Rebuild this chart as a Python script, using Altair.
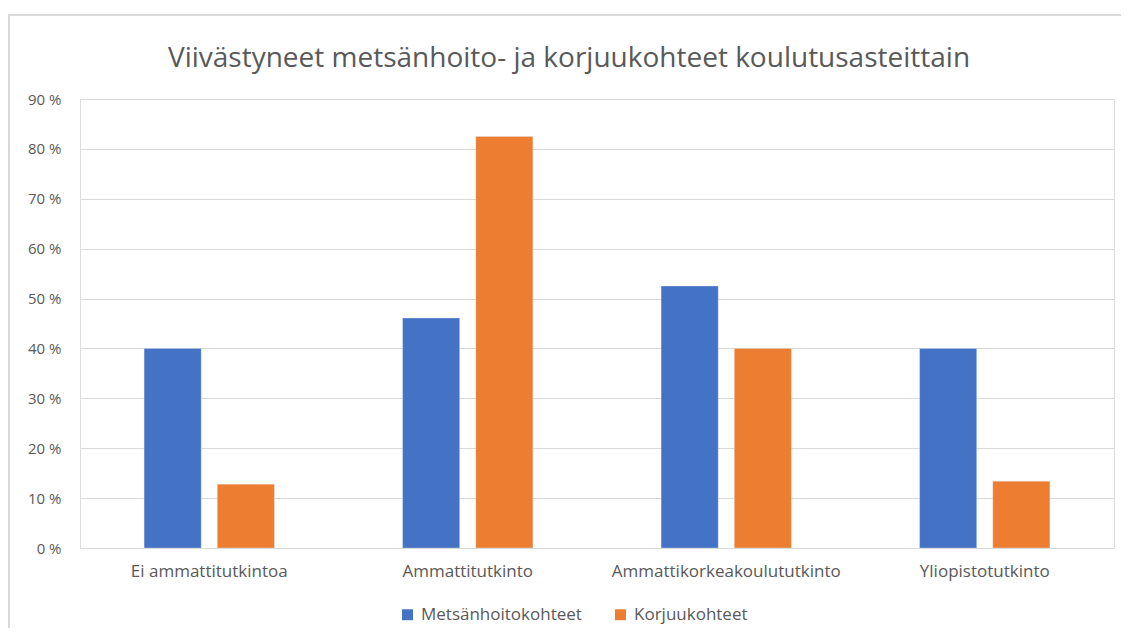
import altair as alt
import pandas as pd

title_text = "Viivästyneet metsänhoito- ja korjuukohteet koulutusasteittain"
categories = ["Ei ammattitutkintoa", "Ammattitutkinto", "Ammattikorkeakoulututkinto", "Yliopistotutkinto"]
series = ["Metsänhoitokohteet", "Korjuukohteet"]
metsanhoito = [40.0, 46.1, 52.5, 40.0]
korjuu = [12.8, 82.5, 40.0, 13.4]
y_ticks = [0, 10, 20, 30, 40, 50, 60, 70, 80, 90]
colors = ["#4472C4", "#ED7D31"]

rows = []
for c, m, k in zip(categories, metsanhoito, korjuu):
    rows.append({"kategoria": c, "sarja": series[0], "arvo": m})
    rows.append({"kategoria": c, "sarja": series[1], "arvo": k})
df = pd.DataFrame(rows)

FONT = "Open Sans"
GRAY = "#595959"
W, H = 1034, 449

bars = alt.Chart(df).mark_bar(stroke="#dfe6f3", strokeWidth=0.6, strokeOpacity=0.6).encode(
    x=alt.X("kategoria:N", sort=categories, title=None,
            scale=alt.Scale(paddingInner=0.496, paddingOuter=0.248),
            axis=alt.Axis(labelAngle=0, ticks=False, domain=False, labelPadding=15,
                          labelFontSize=17, labelColor=GRAY, labelFont=FONT, labelLimit=0)),
    xOffset=alt.XOffset("sarja:N", sort=series, scale=alt.Scale(paddingInner=0.22, paddingOuter=0)),
    y=alt.Y("arvo:Q", title=None,
            scale=alt.Scale(domain=[0, 90], nice=False),
            axis=alt.Axis(values=y_ticks, ticks=False, domain=False, labelPadding=19,
                          labelExpr="datum.value + ' %'", labelFontSize=15,
                          labelColor=GRAY, labelFont=FONT,
                          grid=True, gridColor="#d9d9d9", gridWidth=1)),
    color=alt.Color("sarja:N", sort=series,
                    scale=alt.Scale(domain=series, range=colors),
                    legend=alt.Legend(title=None, orient="none", direction="horizontal",
                                      legendX=319, legendY=507,
                                      symbolType="square", symbolSize=120, symbolStrokeWidth=0,
                                      labelFontSize=17, labelColor=GRAY, labelFont=FONT,
                                      labelLimit=0, columnPadding=30, labelOffset=5)),
)

frame = alt.Chart(df).mark_rect(fillOpacity=0, stroke="#d9d9d9", strokeWidth=1.5).encode(
    x=alt.value(-71), x2=alt.value(W + 100), y=alt.value(-84), y2=alt.value(H + 200))

title = alt.Chart(pd.DataFrame({"t": [title_text]})).mark_text(
    font=FONT, fontSize=28, color=GRAY, align="center", baseline="alphabetic"
).encode(text="t:N", x=alt.value(489), y=alt.value(-32))

chart = alt.layer(frame, bars, title).properties(
    width=W, height=H,
    autosize=alt.AutoSizeParams(type="none"),
    padding={"left": 72, "top": 91, "right": 7, "bottom": 80},
).configure_view(strokeWidth=0).configure(background="white")

chart.save("out.html", embed_options={"renderer": "svg", "actions": False})
